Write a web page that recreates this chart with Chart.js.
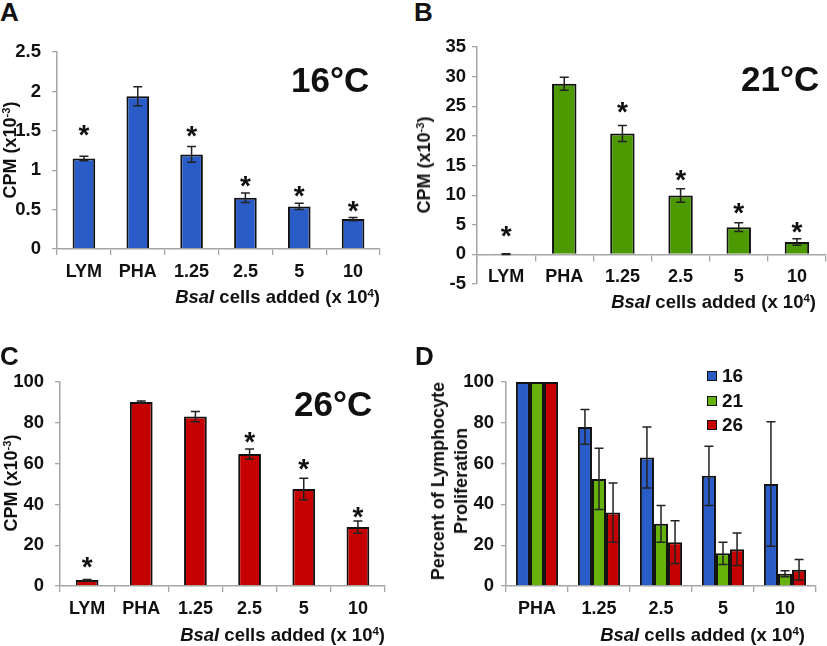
<!DOCTYPE html>
<html>
<head>
<meta charset="utf-8">
<script src="https://cdn.jsdelivr.net/npm/chart.js@4.4.1/dist/chart.umd.min.js"></script>
<style>
    body { margin: 0; background: #fff; width: 827px; height: 646px; position: relative; overflow: hidden;
           font-family: 'Liberation Sans', Arial, sans-serif; font-weight: bold; color: #111; }
    .panel { position: absolute; }
    .txt { position: absolute; white-space: nowrap; line-height: 1; }
    .letter { font-size: 26px; }
    .temp { font-size: 35px; }
    .xtitle { font-size: 18.5px; text-align: right; }
    .ytitle { font-size: 18px; transform: translate(-50%, -50%) rotate(-90deg); text-align: center; }
    sup { font-size: 0.62em; line-height: 0; vertical-align: 0.55em; }
    .leg { position: absolute; font-size: 19px; line-height: 1; }
    .leg span.box { display: inline-block; width: 8px; height: 8px; border: 1.5px solid #111; margin-right: 5px; vertical-align: 1px; }
</style>
</head>
<body>

<canvas id="chartA" class="panel" style="left:0;top:30px" width="392" height="262"></canvas>
<canvas id="chartB" class="panel" style="left:414px;top:30px" width="413" height="275"></canvas>
<canvas id="chartC" class="panel" style="left:0;top:360px" width="392" height="286"></canvas>
<canvas id="chartD" class="panel" style="left:414px;top:360px" width="413" height="286"></canvas>

<div class="txt letter" style="left:0;top:-1px">A</div>
<div class="txt letter" style="left:414px;top:-1px">B</div>
<div class="txt letter" style="left:0;top:343px">C</div>
<div class="txt letter" style="left:415px;top:343px">D</div>

<div class="txt temp" style="left:291px;top:62px">16°C</div>
<div class="txt temp" style="left:741px;top:61px">21°C</div>
<div class="txt temp" style="left:294px;top:386px">26°C</div>

<div class="txt xtitle" style="right:447px;top:288px"><i>BsaI</i> cells added (x 10<sup>4</sup>)</div>
<div class="txt xtitle" style="right:11px;top:293px"><i>BsaI</i> cells added (x 10<sup>4</sup>)</div>
<div class="txt xtitle" style="right:442px;top:626px"><i>BsaI</i> cells added (x 10<sup>4</sup>)</div>
<div class="txt xtitle" style="right:22px;top:626px"><i>BsaI</i> cells added (x 10<sup>4</sup>)</div>

<div class="txt ytitle" style="left:10px;top:150px">CPM (x10<sup>-3</sup>)</div>
<div class="txt ytitle" style="left:424px;top:165px">CPM (x10<sup>-3</sup>)</div>
<div class="txt ytitle" style="left:11px;top:483px">CPM (x10<sup>-3</sup>)</div>
<div class="txt ytitle" style="left:450px;top:481px;line-height:23px">Percent of Lymphocyte<br>Proliferation</div>

<div id="legendD"></div>

<script>
// categories
const categoriesABC = ['LYM', 'PHA', '1.25', '2.5', '5', '10'];
const categoriesD = ['PHA', '1.25', '2.5', '5', '10'];

// panel A, 16 C
const valuesA = [1.15, 1.94, 1.20, 0.65, 0.54, 0.38];
const errorsA = [0.028, 0.12, 0.10, 0.06, 0.04, 0.02];
const starsA = [1.51, null, 1.49, 0.86, 0.73, 0.54];

// panel B, 21 C
const valuesB = [0.05, 28.8, 20.4, 9.95, 4.6, 2.1];
const errorsB = [0.05, 1.1, 1.35, 1.15, 0.75, 0.55];
const starsB = [3.9, null, 24.8, 13.3, 7.7, 4.6];

// panel C, 26 C
const valuesC = [2.9, 90.2, 83.1, 64.7, 47.6, 28.9];
const errorsC = [0.3, 0.5, 2.5, 2.5, 5.3, 3.0];
const starsC = [11.3, null, null, 73, 59.6, 36];

// panel D, percent of PHA
const seriesD = ['16', '21', '26'];
const percent16 = [100, 78, 63, 54, 50];
const errors16 = [0, 8.5, 15, 14.5, 30.5];
const percent21 = [100, 52.5, 30.5, 16, 6];
const errors21 = [0, 15, 9, 5.5, 1.5];
const percent26 = [100, 36, 21.5, 18, 8];
const errors26 = [0, 14.5, 10.5, 8, 5];

const blue = '#2a5cc8';
const green = '#4c9a00';
const greenLight = '#66b10a';
const red = '#c40000';
const axisGrey = '#a6a6a6';

Chart.defaults.font.family = "'Liberation Sans', Arial, sans-serif";
Chart.defaults.font.weight = 'bold';
Chart.defaults.color = '#111';

// error bars + asterisks
const errorBarPlugin = {
    id: 'errorBars',
    afterDatasetsDraw(chart) {
        const ctx = chart.ctx;
        const yScale = chart.scales.y;
        chart.data.datasets.forEach((ds, di) => {
            const meta = chart.getDatasetMeta(di);
            meta.data.forEach((bar, i) => {
                const v = ds.data[i];
                const e = ds.errors ? ds.errors[i] : 0;
                if (e) {
                    const yT = yScale.getPixelForValue(v + e);
                    const yB = yScale.getPixelForValue(v - e);
                    ctx.save();
                    ctx.strokeStyle = '#222';
                    ctx.lineWidth = 1.5;
                    ctx.beginPath();
                    ctx.moveTo(bar.x, yT); ctx.lineTo(bar.x, yB);
                    ctx.moveTo(bar.x - 4.5, yT); ctx.lineTo(bar.x + 4.5, yT);
                    ctx.moveTo(bar.x - 4.5, yB); ctx.lineTo(bar.x + 4.5, yB);
                    ctx.stroke();
                    ctx.restore();
                }
                if (ds.stars && ds.stars[i] != null) {
                    const cy = yScale.getPixelForValue(ds.stars[i]);
                    ctx.save();
                    ctx.font = "bold 28px 'Liberation Sans', Arial, sans-serif";
                    ctx.fillStyle = '#111';
                    ctx.textAlign = 'center';
                    ctx.textBaseline = 'alphabetic';
                    const m = ctx.measureText('*');
                    const base = cy - (m.actualBoundingBoxDescent - m.actualBoundingBoxAscent) / 2;
                    ctx.fillText('*', bar.x, base);
                    ctx.restore();
                }
            });
        });
    }
};

// tick label tanpa nol di belakang (2 bukan 2.0)
const plainTick = v => String(Number(v.toFixed(2)));

function makeChart(id, labels, datasets, opt) {
    return new Chart(document.getElementById(id), {
        type: 'bar',
        data: { labels: labels, datasets: datasets },
        options: {
            responsive: false,
            animation: false,
            layout: { padding: { top: opt.padTop, right: opt.padRight, left: 0, bottom: opt.padBottom || 0 } },
            plugins: { legend: { display: false }, tooltip: { enabled: false } },
            scales: {
                x: {
                    position: opt.xAtZero ? { y: 0 } : 'bottom',
                    grid: { display: true, drawOnChartArea: false, drawTicks: true, tickLength: 6, offset: true, color: axisGrey, lineWidth: 1.3 },
                    border: { display: true, color: axisGrey, width: 1.5 },
                    ticks: { font: { size: 18, weight: 'bold' }, padding: 6, color: '#111' },
                    afterFit: s => { if (opt.xHeight) s.height = opt.xHeight; }
                },
                y: {
                    min: opt.min, max: opt.max,
                    grid: { display: true, drawOnChartArea: false, drawTicks: true, tickLength: 5, color: axisGrey, lineWidth: 1.3 },
                    border: { display: true, color: axisGrey, width: 1.5 },
                    ticks: { stepSize: opt.step, font: { size: 18.5, weight: 'bold' }, padding: opt.yPad, color: '#111', callback: plainTick },
                    afterFit: s => { s.width = opt.yWidth; }
                }
            }
        },
        plugins: [errorBarPlugin]
    });
}

function single(values, errors, stars, color) {
    return [{
        data: values, errors: errors, stars: stars,
        backgroundColor: color, borderColor: '#111', borderWidth: 2,
        barPercentage: 0.42, categoryPercentage: 1
    }];
}

makeChart('chartA', categoriesABC, single(valuesA, errorsA, starsA, blue),
    { min: 0, max: 2.5, step: 0.5, padTop: 21, padRight: 12, yWidth: 57, xHeight: 43, yPad: 11 });

makeChart('chartB', categoriesABC, single(valuesB, errorsB, starsB, green),
    { min: -5, max: 35, step: 5, padTop: 16, padRight: 1, padBottom: 21, yWidth: 63, xAtZero: true, yPad: 6 });

makeChart('chartC', categoriesABC, single(valuesC, errorsC, starsC, red),
    { min: 0, max: 100, step: 20, padTop: 22, padRight: 7, yWidth: 60, xHeight: 60, yPad: 11 });

const colorsD = [blue, greenLight, red];
const valuesD = [percent16, percent21, percent26];
const errorsD = [errors16, errors21, errors26];
makeChart('chartD', categoriesD, seriesD.map((s, i) => ({
    label: s, data: valuesD[i], errors: errorsD[i],
    backgroundColor: colorsD[i], borderColor: '#111', borderWidth: 2,
    barPercentage: 1, categoryPercentage: 0.68
})), { min: 0, max: 100, step: 20, padTop: 22, padRight: 11, yWidth: 92, xHeight: 60, yPad: 7 });

// legend for D
const leg = document.getElementById('legendD');
seriesD.forEach((s, i) => {
    const d = document.createElement('div');
    d.className = 'leg';
    d.style.left = '707px';
    d.style.top = (366 + i * 24.5) + 'px';
    d.innerHTML = `<span class="box" style="background:${colorsD[i]}"></span>${s}`;
    leg.appendChild(d);
});
</script>
</body>
</html>
